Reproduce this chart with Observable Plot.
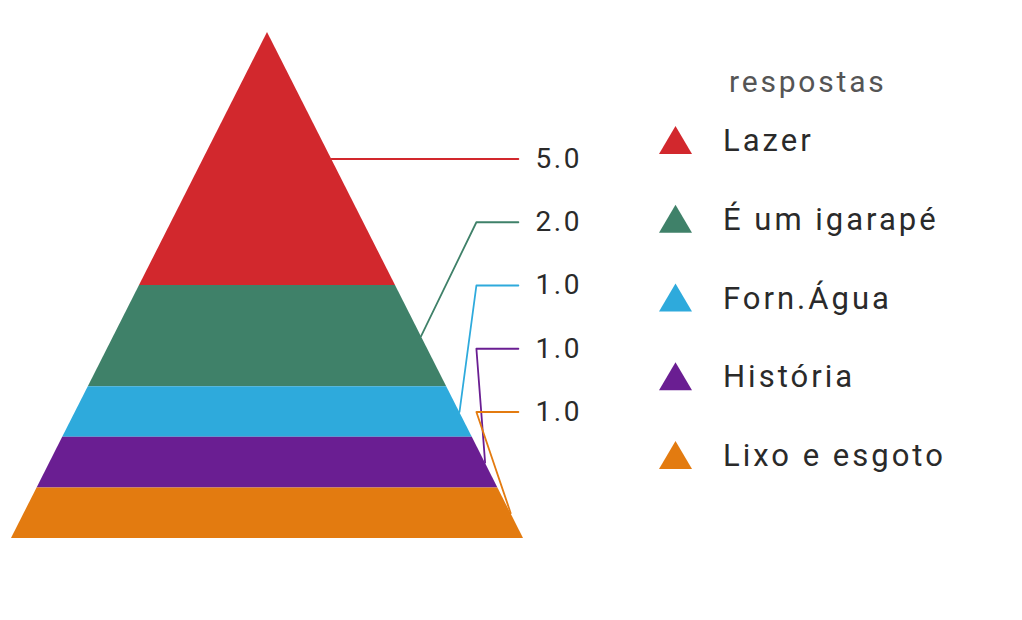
<!DOCTYPE html>
<html>
<head>
<meta charset="utf-8">
<script src="https://cdn.jsdelivr.net/npm/d3@7"></script>
<script src="https://cdn.jsdelivr.net/npm/@observablehq/plot@0.6"></script>
<style>
  html, body { margin: 0; padding: 0; background: #fff; }
  #chart { width: 1022px; height: 620px; }
  #chart svg text { font-family: Roboto, "Noto Sans", sans-serif; }
</style>
</head>
<body>
<div id="chart"></div>
<script>
// ---- data ----
const categories = ["Lazer", "É um igarapé", "Forn.Água", "História", "Lixo e esgoto"];
const values = [5, 2, 1, 1, 1];
const colors = ["#d2282d", "#3f8169", "#2eaadc", "#6a1e92", "#e37b10"];
const legendTitle = "respostas";

// ---- derived tables ----
const total = d3.sum(values);
const tops = d3.cumsum([0, ...values]).slice(0, values.length);

// pyramid bands: half-width proportional to depth from apex
const bands = categories.flatMap((cat, i) => {
  const y0 = tops[i], y1 = tops[i] + values[i];
  return [
    {cat, y: y0, xl: -y0 / total, xr: y0 / total},
    {cat, y: y1, xl: -y1 / total, xr: y1 / total}
  ];
});

// label slots (layout): first at top band middle, then evenly spaced
const firstMid = tops[0] + values[0] / 2;
const labelStep = 1.25;
const elbowX = 0.816, endX = 0.98, textX = 1.047;
const labels = categories.map((cat, i) => {
  const mid = tops[i] + values[i] / 2;
  return {cat, v: values[i], mid, ax: mid / total, ly: firstMid + i * labelStep};
});
const leaders = labels.flatMap(d => [
  {cat: d.cat, x: d.ax, y: d.mid},
  {cat: d.cat, x: elbowX, y: d.ly},
  {cat: d.cat, x: endX, y: d.ly}
]);

const chart = Plot.plot({
  width: 1022,
  height: 620,
  margin: 0,
  style: {background: "#fff", fontFamily: "Roboto"},
  x: {domain: [-1, 1], range: [11, 523], axis: null},
  y: {domain: [0, total], range: [32, 538], axis: null},
  color: {domain: categories, range: colors},
  marks: [
    Plot.areaX(bands, {y: "y", x1: "xl", x2: "xr", z: "cat", fill: "cat"}),
    Plot.line(leaders, {x: "x", y: "y", z: "cat", stroke: "cat", strokeWidth: 1.8}),
    Plot.text(labels, {
      x: textX, y: "ly", text: d => d.v.toFixed(1),
      textAnchor: "start", fontSize: 28, fill: "#2a2a2a"
    })
  ]
});
document.getElementById("chart").appendChild(chart);
d3.select(chart).selectAll("text").style("letter-spacing", "2.6px");

// ---- legend (drawn into the same svg) ----
const color = chart.scale("color");
const svg = d3.select(chart);
const lg = svg.append("g")
  .attr("font-family", "Roboto, sans-serif")
  .attr("text-anchor", "start");
lg.append("text")
  .attr("x", 729).attr("y", 92)
  .attr("font-size", 30).attr("fill", "#555")
  .style("letter-spacing", "2.8px")
  .text(legendTitle);
const items = lg.selectAll("g.item").data(categories).join("g")
  .attr("class", "item")
  .attr("transform", (d, i) => `translate(0,${140 + i * 78.75})`);
items.append("polygon")
  .attr("points", "659,14 692,14 675.5,-14")
  .attr("fill", d => color.apply(d));
items.append("text")
  .attr("x", 723).attr("y", 11)
  .attr("font-size", 31).attr("fill", "#2a2a2a")
  .style("letter-spacing", "3px")
  .text(d => d);
</script>
</body>
</html>
